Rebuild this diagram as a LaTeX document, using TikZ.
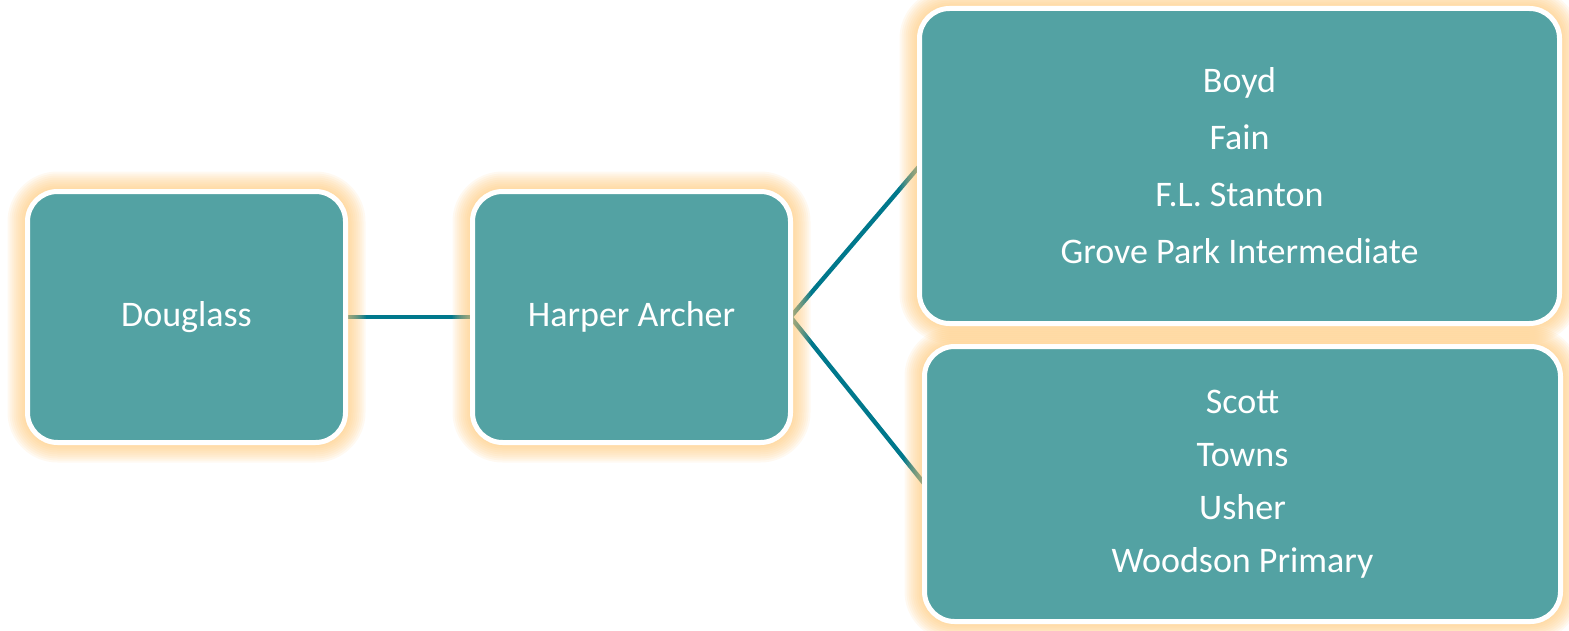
\documentclass[tikz,border=0pt]{standalone}
\usepackage{fontspec}
\setmainfont{Carlito}
\usetikzlibrary{positioning}
\usetikzlibrary{backgrounds}
\definecolor{cajaverde}{RGB}{83,162,163}
\definecolor{linea}{RGB}{0,120,140}
\definecolor{brillo}{RGB}{255,198,115}
\tikzset{
  caja/.style={draw=white, line width=2.5pt, fill=cajaverde, rounded corners=15pt,
    text=white, font=\fontsize{18}{28}\selectfont, align=center, inner sep=0pt, outer sep=0pt},
  enlace/.style={draw=linea, line width=2.2pt}
}

\begin{document}
\begin{tikzpicture}[x=0.5pt,y=-0.5pt]
  \useasboundingbox (0,0) rectangle (1569,631);
  % Cajas
  \node[caja, minimum width=159pt, minimum height=125.5pt] (douglass) at (186.5,317) {Douglass};
  \node[caja, minimum width=159pt, minimum height=125.5pt] (harper) at (631.5,317) {Harper Archer};
  \node[caja, minimum width=320pt, minimum height=157.5pt, font=\fontsize{18}{28.5}\selectfont] (grupoA) at (1239.5,166)
    {Boyd\\Fain\\F.L. Stanton\\Grove Park Intermediate};
  \node[caja, minimum width=318pt, minimum height=137.5pt, font=\fontsize{18}{26.5}\selectfont] (grupoB) at (1242.5,484)
    {Scott\\Towns\\Usher\\Woodson Primary};

  \begin{scope}[on background layer]
    % Enlaces
    \draw[enlace] (douglass.east) -- (harper.west);
    \draw[enlace] (harper.east) -- (grupoA.west);
    \draw[enlace] (harper.east) -- (grupoB.west);
    % Brillo naranja
    \foreach \n in {douglass,harper,grupoA,grupoB}
      \foreach \k in {1,...,10}
        \fill[brillo, opacity=0.1, rounded corners=15pt+\k pt]
          ([shift={(-\k pt,\k pt)}]\n.north west) rectangle ([shift={(\k pt,-\k pt)}]\n.south east);
  \end{scope}
\end{tikzpicture}
\end{document}
